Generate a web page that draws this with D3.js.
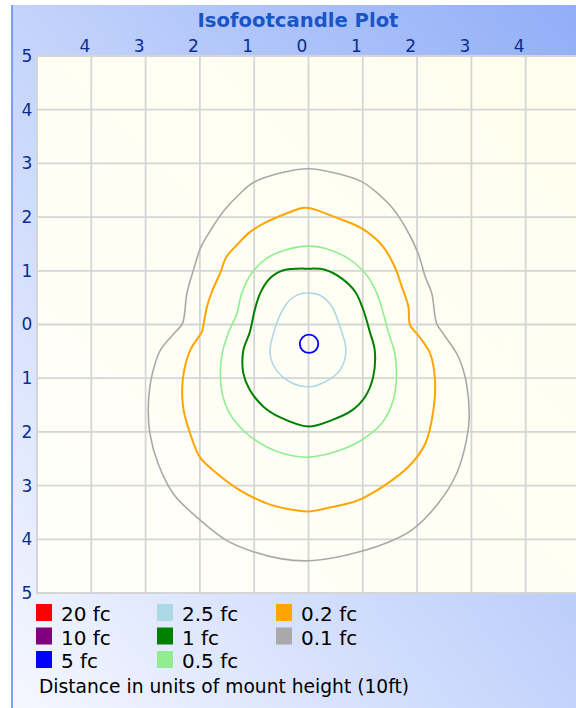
<!DOCTYPE html>
<html>
<head>
<meta charset="utf-8">
<script src="https://cdn.jsdelivr.net/npm/d3@7"></script>
<style>
html,body{margin:0;padding:0;background:#fff;}
svg{display:block;}
text{font-family:"DejaVu Sans",Verdana,sans-serif;}
</style>
</head>
<body>
<svg id="chart" width="576" height="708"></svg>
<script>
// ---------------- data ----------------
const title = "Isofootcandle Plot";
const footer = "Distance in units of mount height (10ft)";
const xTicks = [-4, -3, -2, -1, 0, 1, 2, 3, 4];
const yTicks = [5, 4, 3, 2, 1, 0, -1, -2, -3, -4, -5];
const categories = ["20 fc", "10 fc", "5 fc", "2.5 fc", "1 fc", "0.5 fc", "0.2 fc", "0.1 fc"];
const categoryColors = ["#ff0000", "#800080", "#0000ff", "#add8e6", "#008000", "#90ee90", "#ffa500", "#a9a9a9"];

// contour points [x, y] in mount-height units (y up = positive)
const contour_0_1fc = [[0,2.90],[0.49,2.82],[0.98,2.66],[1.30,2.42],[1.53,2.19],[1.78,1.82],[2.02,1.32],[2.15,0.89],[2.27,0.58],[2.36,0.02],[2.48,-0.17],
  [2.76,-0.60],[2.91,-1.10],[2.96,-1.72],[2.91,-2.15],[2.73,-2.77],[2.39,-3.33],[1.90,-3.83],[1.41,-4.08],[0.67,-4.30],[0,-4.40],
  [-0.52,-4.36],[-1.02,-4.23],[-1.51,-4.02],[-2.00,-3.64],[-2.49,-3.15],[-2.77,-2.59],[-2.92,-2.03],[-2.95,-1.53],[-2.89,-0.98],[-2.73,-0.48],[-2.46,-0.15],
  [-2.32,0.02],[-2.24,0.58],[-2.12,1.01],[-1.99,1.42],[-1.80,1.76],[-1.54,2.14],[-1.26,2.44],[-1.02,2.64],[-0.52,2.82]];
const contour_0_2fc = [[0,2.17],[0.12,2.14],[0.49,2.00],[0.98,1.79],[1.35,1.48],[1.59,1.07],[1.72,0.70],[1.84,0.33],[1.87,-0.01],[2.02,-0.20],
  [2.24,-0.54],[2.33,-1.04],[2.30,-1.60],[2.15,-2.22],[1.84,-2.65],[1.41,-2.99],[0.92,-3.27],[0.43,-3.40],[0,-3.48],
  [-0.40,-3.43],[-0.77,-3.33],[-1.26,-3.09],[-1.69,-2.77],[-2.00,-2.47],[-2.18,-2.03],[-2.31,-1.53],[-2.31,-0.98],[-2.18,-0.48],[-1.96,-0.13],
  [-1.94,-0.04],[-1.87,0.33],[-1.78,0.61],[-1.63,0.95],[-1.51,1.26],[-1.32,1.48],[-1.08,1.72],[-0.77,1.91],[-0.40,2.07],[-0.12,2.17]];
const contour_0_5fc = [[0,1.46],[0.30,1.42],[0.73,1.23],[1.07,0.92],[1.26,0.58],[1.38,0.20],[1.47,-0.14],[1.59,-0.54],[1.62,-0.98],[1.56,-1.41],
  [1.35,-1.84],[0.98,-2.15],[0.55,-2.35],[0,-2.47],[-0.40,-2.42],[-0.77,-2.28],[-1.14,-2.03],[-1.45,-1.66],[-1.60,-1.22],[-1.60,-0.60],
  [-1.47,-0.14],[-1.32,0.20],[-1.23,0.58],[-1.05,0.95],[-0.77,1.23],[-0.46,1.38]];
const contour_1fc = [[0,1.04],[0.30,1.02],[0.61,0.86],[0.86,0.61],[1.01,0.27],[1.13,-0.14],[1.22,-0.48],[1.19,-0.98],[1.04,-1.35],[0.80,-1.60],
  [0.43,-1.78],[0,-1.90],[-0.52,-1.73],[-0.83,-1.53],[-1.08,-1.22],[-1.20,-0.91],[-1.20,-0.48],[-1.08,-0.14],[-0.99,0.27],[-0.89,0.58],
  [-0.71,0.86],[-0.46,1.01]];
const contour_2_5fc = [[0.02,0.585],[0.18,0.56],[0.33,0.46],[0.45,0.30],[0.58,-0.04],[0.69,-0.48],[0.58,-0.85],[0.30,-1.07],[0,-1.16],[-0.34,-1.07],
  [-0.59,-0.85],[-0.71,-0.54],[-0.62,-0.08],[-0.46,0.30],[-0.33,0.47],[-0.16,0.57]];
const contour_5fc = [[0.01,-0.19],[0.13,-0.24],[0.18,-0.36],[0.13,-0.48],[0.01,-0.53],[-0.11,-0.48],[-0.16,-0.36],[-0.11,-0.24]];

const contours = [
  {level: "0.1 fc", pts: contour_0_1fc},
  {level: "0.2 fc", pts: contour_0_2fc},
  {level: "0.5 fc", pts: contour_0_5fc},
  {level: "1 fc", pts: contour_1fc},
  {level: "2.5 fc", pts: contour_2_5fc},
  {level: "5 fc", pts: contour_5fc}
];

// ---------------- drawing ----------------
const svg = d3.select("#chart");
const W = 576, H = 708;
const plot = {left: 37, top: 56, right: 576, bottom: 593};
const x = d3.scaleLinear().domain([-5, 5]).range([37, 580]);
const y = d3.scaleLinear().domain([-5, 5]).range([593, 56]);
const color = d3.scaleOrdinal().domain(categories).range(categoryColors);
const widths = {"0.1 fc": 1.6, "0.2 fc": 2, "0.5 fc": 1.6, "1 fc": 2, "2.5 fc": 1.6, "5 fc": 1.8};

const defs = svg.append("defs");
const g1 = defs.append("linearGradient").attr("id", "panelGrad")
  .attr("x1", "0").attr("y1", "1").attr("x2", "1").attr("y2", "0");
g1.append("stop").attr("offset", "0").attr("stop-color", "#f6f8ff");
g1.append("stop").attr("offset", "1").attr("stop-color", "#91aef7");
const g2 = defs.append("linearGradient").attr("id", "plotGrad")
  .attr("x1", "0").attr("y1", "1").attr("x2", "1").attr("y2", "0");
g2.append("stop").attr("offset", "0").attr("stop-color", "#fffffa");
g2.append("stop").attr("offset", "1").attr("stop-color", "#fefeee");

// panel
svg.append("rect").attr("x", 11).attr("y", 5).attr("width", W - 11).attr("height", H - 5)
  .attr("fill", "url(#panelGrad)");
svg.append("rect").attr("x", 11).attr("y", 5).attr("width", 2).attr("height", H - 5)
  .attr("fill", "#7f9ff0");

// title
svg.append("text").attr("x", 298).attr("y", 27).attr("text-anchor", "middle")
  .attr("font-size", 20).attr("font-weight", "bold").attr("fill", "#1a55c6")
  .attr("textLength", 201).attr("lengthAdjust", "spacingAndGlyphs").text(title);

// plot area
svg.append("rect").attr("x", plot.left).attr("y", plot.top)
  .attr("width", plot.right - plot.left).attr("height", plot.bottom - plot.top)
  .attr("fill", "url(#plotGrad)");

const grid = svg.append("g").attr("stroke", "#d5d5d5").attr("stroke-width", 1.8);
grid.selectAll("line.v").data(xTicks).join("line").attr("class", "v")
  .attr("x1", d => x(d)).attr("x2", d => x(d)).attr("y1", plot.top).attr("y2", plot.bottom);
grid.selectAll("line.h").data(yTicks.filter(d => Math.abs(d) < 5)).join("line").attr("class", "h")
  .attr("x1", plot.left).attr("x2", plot.right).attr("y1", d => y(d)).attr("y2", d => y(d));
// border
svg.append("path").attr("fill", "none").attr("stroke", "#d5d5d5").attr("stroke-width", 2)
  .attr("d", `M${plot.right},${plot.top}H${plot.left}V${plot.bottom}H${plot.right}`);

// contours
const line = d3.line().x(d => x(d[0])).y(d => y(d[1])).curve(d3.curveCatmullRomClosed.alpha(0.5));
svg.append("g").selectAll("path").data(contours).join("path")
  .attr("d", d => line(d.pts))
  .attr("fill", "none")
  .attr("stroke", d => color(d.level))
  .attr("stroke-width", d => widths[d.level]);

// axes
const fmt = d => String(Math.abs(d));
const topAxis = svg.append("g").attr("transform", `translate(0,${plot.top})`)
  .call(d3.axisTop(x).tickValues(xTicks).tickSize(0).tickPadding(4).tickFormat(fmt));
topAxis.select(".domain").remove();
topAxis.selectAll("text").attr("dx", -7).attr("font-size", 17).attr("fill", "#0b2d8e")
  .attr("font-family", "'DejaVu Sans',Verdana,sans-serif");

const leftAxis = svg.append("g").attr("transform", `translate(${plot.left},0)`)
  .call(d3.axisLeft(y).tickValues(yTicks).tickSize(0).tickPadding(10).tickFormat(fmt));
leftAxis.select(".domain").remove();
leftAxis.selectAll("text").attr("text-anchor", "middle").attr("font-size", 17).attr("fill", "#0b2d8e")
  .attr("font-family", "'DejaVu Sans',Verdana,sans-serif");

// legend
const colX = [36, 157, 276];
const rowY = [604, 627.5, 651];
const leg = svg.append("g").selectAll("g").data(categories).join("g")
  .attr("transform", (d, i) => `translate(${colX[Math.floor(i / 3)]},${rowY[i % 3]})`);
leg.append("rect").attr("width", 16).attr("height", 17).attr("fill", d => color(d));
leg.append("text").attr("x", 25).attr("y", 17).attr("font-size", 20).attr("fill", "#000")
  .text(d => d);

svg.append("text").attr("x", 39).attr("y", 693).attr("font-size", 20).attr("fill", "#000")
  .attr("textLength", 370).attr("lengthAdjust", "spacingAndGlyphs").text(footer);
</script>
</body>
</html>
